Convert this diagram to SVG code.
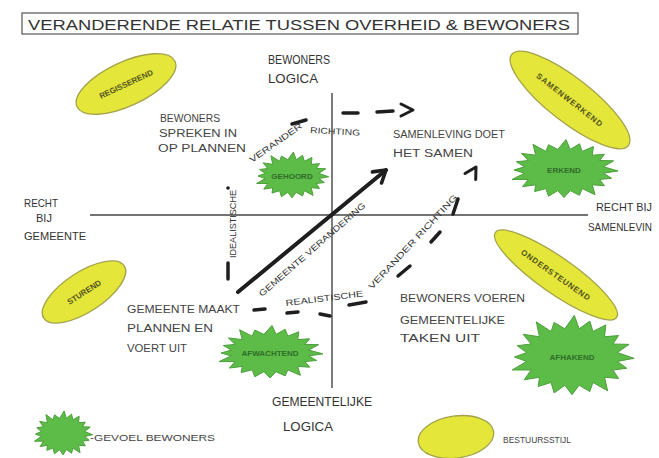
<svg xmlns="http://www.w3.org/2000/svg" xmlns:xlink="http://www.w3.org/1999/xlink" width="659" height="458" viewBox="0 0 659 458">
<style>
  text{font-family:"Liberation Sans","DejaVu Sans",sans-serif;fill:#333;}
  .q{font-size:10px;fill:#444;}
  .lab{font-size:8.5px;fill:#333;}
  .yl{fill:#e4e63a;stroke:#a3a24a;stroke-width:1.3;}
  .yt{font-size:8px;fill:#55551f;text-anchor:middle;font-weight:bold;}
  .gt{font-size:8px;fill:#2e6e28;text-anchor:middle;font-weight:bold;}
  .axis{stroke:#444;stroke-width:1.4;fill:none;}
  .dash{stroke:#1e1e1e;stroke-width:3.5;stroke-linecap:round;fill:none;}
  .chev{stroke:#1e1e1e;stroke-width:3;stroke-linecap:round;stroke-linejoin:round;fill:none;}
</style>
<defs>
  <path id="burst" fill="#5dbb48" stroke="#4c9f3b" stroke-width="1" vector-effect="non-scaling-stroke" stroke-linejoin="round"
    d="M54,1 L39.5,3.4 L47.6,8.7 L35.6,10 L40.5,16.5 L28.3,15.6 L31,26 L18.2,19.6 L15.5,26.6 L6.2,21.7 L0,29 L-6.2,21.7 L-15.5,27.6 L-18.2,19.6 L-29.4,22.7 L-28.3,15.6 L-41.5,17.5 L-35.6,10 L-52,10 L-39.5,3.4 L-50,0 L-39.5,-3.4 L-47.6,-8.7 L-35.6,-10 L-42.5,-17.5 L-28.3,-15.6 L-31,-27 L-18.2,-19.6 L-15.5,-26.6 L-6.2,-21.7 L2,-32 L6.2,-21.7 L15.5,-27.6 L18.2,-19.6 L29.4,-24.7 L28.3,-15.6 L40.5,-16.5 L35.6,-10 L49.6,-9.7 L39.5,-3.4 Z"/>
  <marker id="arrowhead" viewBox="0 0 10 10" refX="8" refY="5" markerUnits="userSpaceOnUse" markerWidth="18" markerHeight="18" orient="auto">
    <path d="M1.5,1 L8,5 L1.5,9" fill="none" stroke="#1e1e1e" stroke-width="2" stroke-linecap="round" stroke-linejoin="round"/>
  </marker>
</defs>
<rect width="659" height="458" fill="#ffffff"/>

<g id="title">
  <rect x="22" y="13" width="556" height="21" fill="none" stroke="#555" stroke-width="1.2"/>
  <text x="28" y="30" font-size="15" textLength="542" lengthAdjust="spacingAndGlyphs">VERANDERENDE RELATIE TUSSEN OVERHEID &amp; BEWONERS</text>
</g>

<g id="connectors">
  <line class="axis" x1="332" y1="93" x2="332" y2="388"/>
  <line class="axis" x1="90" y1="215" x2="588" y2="215"/>
  <line x1="238" y1="292" x2="386" y2="170" stroke="#1e1e1e" stroke-width="4" stroke-linecap="round" marker-end="url(#arrowhead)"/>
  <line class="dash" x1="228" y1="263" x2="228" y2="279"/>
  <circle cx="228" cy="188" r="1.8" fill="#1e1e1e"/>
  <line class="dash" x1="292" y1="124" x2="306" y2="120"/>
  <line class="dash" x1="343" y1="113" x2="358" y2="113"/>
  <line class="dash" x1="377" y1="112" x2="393" y2="111"/>
  <polyline class="chev" points="401,104 413,110 401,116"/>
  <line class="dash" x1="254" y1="310" x2="265" y2="309"/>
  <line class="dash" x1="287" y1="313" x2="298" y2="312"/>
  <line class="dash" x1="320" y1="314" x2="330" y2="316"/>
  <line class="dash" x1="349" y1="305" x2="366" y2="302"/>
  <line class="dash" x1="398" y1="276" x2="410" y2="266"/>
  <line class="dash" x1="431" y1="242" x2="440" y2="232"/>
  <line class="dash" x1="453" y1="214" x2="458" y2="199"/>
  <polyline class="chev" points="465,173.5 476,167 475.7,179.5"/>
  <text class="lab" transform="translate(262,297) rotate(-41)" textLength="138" lengthAdjust="spacingAndGlyphs">GEMEENTE VERANDERING</text>
  <text class="lab" transform="translate(236,258) rotate(-90)" textLength="68" lengthAdjust="spacingAndGlyphs">IDEALISTISCHE</text>
  <text class="lab" transform="translate(252,163) rotate(-35)" textLength="62" lengthAdjust="spacingAndGlyphs">VERANDER</text>
  <text class="lab" transform="translate(310,133) rotate(3)" textLength="50" lengthAdjust="spacingAndGlyphs">RICHTING</text>
  <text class="lab" transform="translate(286,306) rotate(-7)" textLength="78" lengthAdjust="spacingAndGlyphs">REALISTISCHE</text>
  <text class="lab" transform="translate(372,290) rotate(-47)" textLength="126" lengthAdjust="spacingAndGlyphs">VERANDER RICHTING</text>
</g>

<g id="axis-labels">
  <text x="268" y="64" font-size="13" textLength="62" lengthAdjust="spacingAndGlyphs">BEWONERS</text>
  <text x="268" y="83" font-size="13" textLength="50" lengthAdjust="spacingAndGlyphs">LOGICA</text>
  <text x="24" y="207" font-size="11" textLength="34" lengthAdjust="spacingAndGlyphs">RECHT</text>
  <text x="36" y="222" font-size="11">BIJ</text>
  <text x="24" y="240" font-size="11" textLength="62" lengthAdjust="spacingAndGlyphs">GEMEENTE</text>
  <text x="596" y="211" font-size="11" textLength="56" lengthAdjust="spacingAndGlyphs">RECHT BIJ</text>
  <text x="588" y="231" font-size="10.5" textLength="64" lengthAdjust="spacingAndGlyphs">SAMENLEVIN</text>
  <text x="272" y="406" font-size="12" textLength="100" lengthAdjust="spacingAndGlyphs">GEMEENTELIJKE</text>
  <text x="283" y="431" font-size="13" textLength="50" lengthAdjust="spacingAndGlyphs">LOGICA</text>
</g>

<g id="q-top-left">
  <text class="q" x="160" y="122" textLength="60" lengthAdjust="spacingAndGlyphs">BEWONERS</text>
  <text class="q" x="159" y="137" textLength="78" lengthAdjust="spacingAndGlyphs">SPREKEN IN</text>
  <text class="q" x="158" y="152" textLength="88" lengthAdjust="spacingAndGlyphs">OP PLANNEN</text>
</g>
<g id="q-top-right">
  <text class="q" x="393" y="138" textLength="112" lengthAdjust="spacingAndGlyphs">SAMENLEVING DOET</text>
  <text class="q" x="393" y="157" textLength="80" lengthAdjust="spacingAndGlyphs">HET SAMEN</text>
</g>
<g id="q-bottom-left">
  <text class="q" x="127" y="313" textLength="113" lengthAdjust="spacingAndGlyphs">GEMEENTE MAAKT</text>
  <text class="q" x="127" y="332" textLength="86" lengthAdjust="spacingAndGlyphs">PLANNEN EN</text>
  <text class="q" x="127" y="352" textLength="60" lengthAdjust="spacingAndGlyphs">VOERT UIT</text>
</g>
<g id="q-bottom-right">
  <text class="q" x="400" y="302" textLength="125" lengthAdjust="spacingAndGlyphs">BEWONERS VOEREN</text>
  <text class="q" x="400" y="324" textLength="105" lengthAdjust="spacingAndGlyphs">GEMEENTELIJKE</text>
  <text class="q" x="400" y="342" textLength="80" lengthAdjust="spacingAndGlyphs">TAKEN UIT</text>
</g>

<g id="style-top-left" transform="translate(126,84) rotate(-25)">
  <ellipse class="yl" cx="0" cy="0" rx="54" ry="22"/>
  <text class="yt" x="0" y="3">REGISSEREND</text>
</g>
<g id="style-top-right" transform="translate(570,100) rotate(38)">
  <ellipse class="yl" cx="0" cy="0" rx="74" ry="22"/>
  <text class="yt" x="0" y="3" letter-spacing="1">SAMENWERKEND</text>
</g>
<g id="style-bottom-left" transform="translate(84,292) rotate(-33)">
  <ellipse class="yl" cx="0" cy="0" rx="48" ry="20"/>
  <text class="yt" x="0" y="3">STUREND</text>
</g>
<g id="style-bottom-right" transform="translate(556,275) rotate(35)">
  <ellipse class="yl" cx="0" cy="0" rx="74" ry="18"/>
  <text class="yt" x="0" y="3" letter-spacing="0.8">ONDERSTEUNEND</text>
</g>

<g id="feel-top-left">
  <use xlink:href="#burst" href="#burst" transform="translate(292,176) scale(0.68,0.75)"/>
  <text class="gt" x="292" y="179">GEHOORD</text>
</g>
<g id="feel-top-right">
  <use xlink:href="#burst" href="#burst" transform="translate(564,170) scale(1.0,0.95)"/>
  <text class="gt" x="564" y="173">ERKEND</text>
</g>
<g id="feel-bottom-left">
  <use xlink:href="#burst" href="#burst" transform="translate(270,353) scale(0.98,0.86)"/>
  <text class="gt" x="270" y="356">AFWACHTEND</text>
</g>
<g id="feel-bottom-right">
  <use xlink:href="#burst" href="#burst" transform="translate(572,357) scale(1.15,1.3)"/>
  <text class="gt" x="572" y="360">AFHAKEND</text>
</g>

<g id="legend-feel">
  <use xlink:href="#burst" href="#burst" transform="translate(63,434) scale(0.55,0.72)"/>
  <text x="90" y="441" style="font-size:9px;fill:#444" textLength="125" lengthAdjust="spacingAndGlyphs">-GEVOEL BEWONERS</text>
</g>
<g id="legend-style">
  <ellipse class="yl" cx="456" cy="437" rx="38" ry="21" transform="rotate(-8 456 437)"/>
  <text x="503" y="443" style="font-size:9px;fill:#444" textLength="68" lengthAdjust="spacingAndGlyphs">BESTUURSSTIJL</text>
</g>
</svg>
